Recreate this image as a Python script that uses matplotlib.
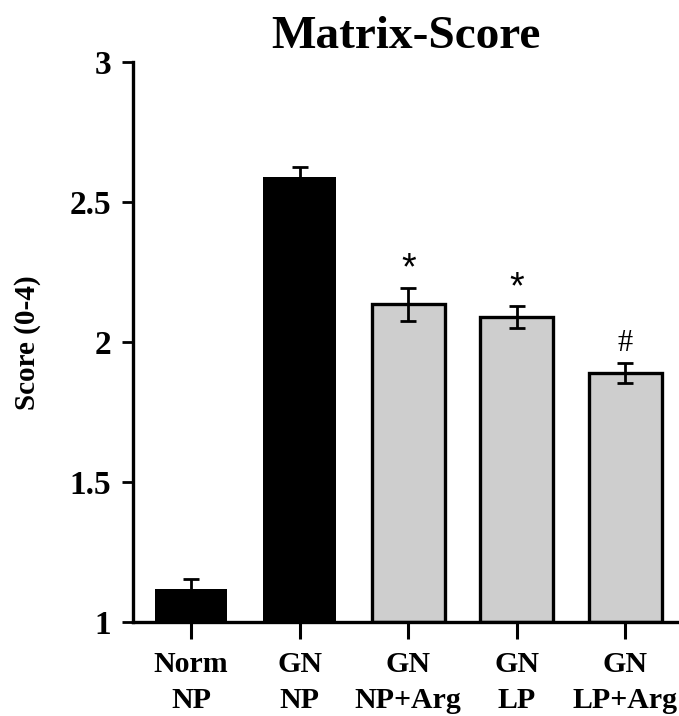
import matplotlib
matplotlib.use("Agg")
import matplotlib.pyplot as plt

groups = ["Norm\nNP", "GN\nNP", "GN\nNP+Arg", "GN\nLP", "GN\nLP+Arg"]
scores = [1.118, 2.59, 2.135, 2.09, 1.89]
errors = [0.035, 0.035, 0.06, 0.038, 0.036]
bar_colors = ["black", "black", "#cecece", "#cecece", "#cecece"]
marks = ["", "", "*", "*", "#"]

plt.rcParams["font.family"] = ["Liberation Serif", "DejaVu Serif"]
plt.rcParams["font.weight"] = "bold"
plt.rcParams["axes.titleweight"] = "bold"
plt.rcParams["axes.labelweight"] = "bold"

fig = plt.figure(figsize=(6.79, 7.16), dpi=100)
ax = fig.add_axes([0.196, 0.131, 0.804, 0.782])

x = list(range(len(groups)))
for i in x:
    lw = 0 if bar_colors[i] == "black" else 2.4
    ax.bar(i, scores[i] - 1, bottom=1, width=0.67, color=bar_colors[i],
           edgecolor="black", linewidth=lw, zorder=2)
ax.errorbar(x, scores, yerr=errors, fmt="none", ecolor="black",
            elinewidth=2, capsize=6, capthick=2, zorder=3)

for i in x:
    if marks[i] == "*":
        ax.text(i, scores[i] + errors[i] + 0.065, "*", ha="center",
                va="center", fontsize=27, fontweight="normal",
                family=["Liberation Sans"])
    elif marks[i] == "#":
        ax.text(i, scores[i] + errors[i] + 0.07, "#", ha="center",
                va="center", fontsize=22, fontweight="normal")

ax.set_xlim(-0.534, 4.494)
ax.set_ylim(1, 3)
ax.set_yticks([1, 1.5, 2, 2.5, 3])
ax.set_yticklabels(["1", "1.5", "2", "2.5", "3"])
ax.set_xticks(x)
ax.set_xticklabels(groups, fontsize=21.5, linespacing=1.4)
ax.tick_params(axis="y", labelsize=24, length=8, width=2, pad=8)
ax.tick_params(axis="x", length=12, width=2.2, pad=9)

for s in ["top", "right"]:
    ax.spines[s].set_visible(False)
ax.spines["left"].set_linewidth(2.4)
ax.spines["bottom"].set_linewidth(2.4)

ax.set_ylabel("Score (0-4)", fontsize=21, labelpad=20)
ax.set_title("Matrix-Score", fontsize=34, pad=10)

fig.savefig("out.png", dpi=100)
